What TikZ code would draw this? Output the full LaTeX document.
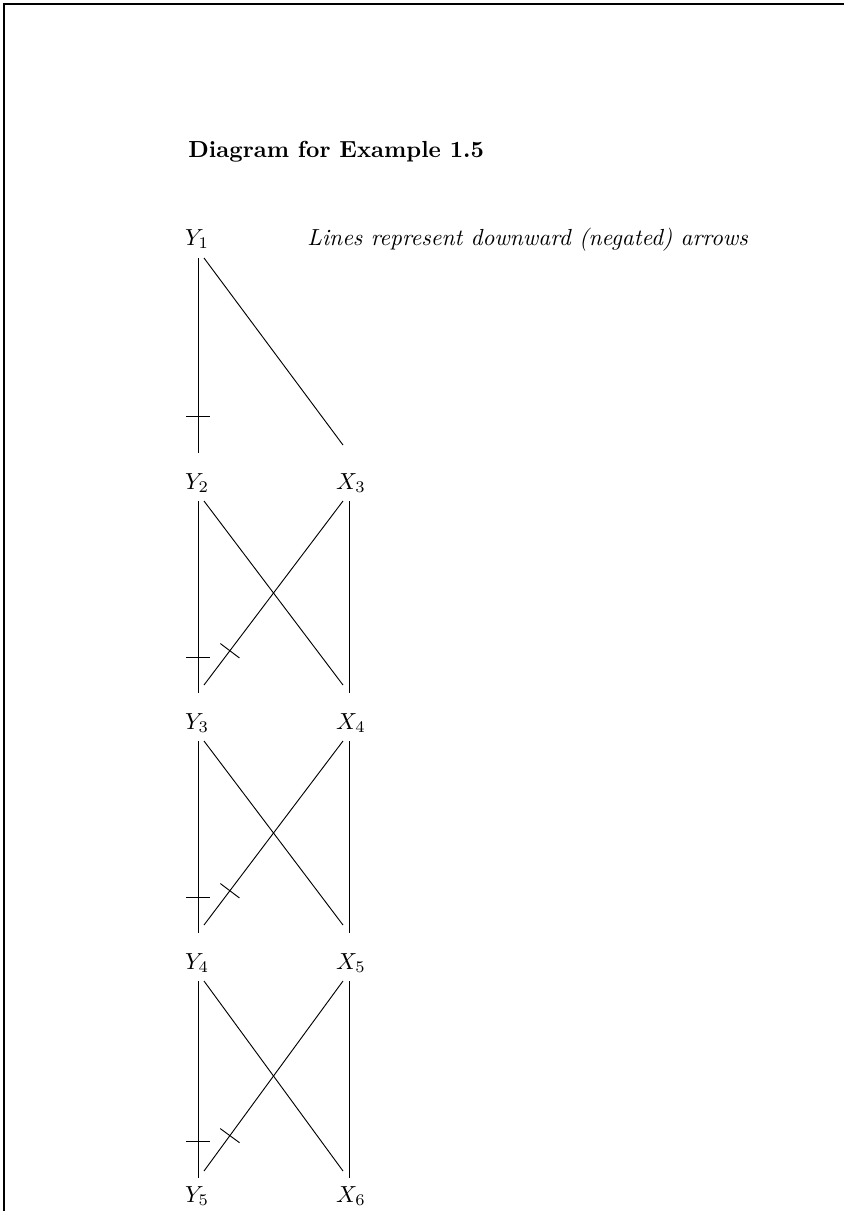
\documentclass[tikz,border=0pt]{standalone}
\usetikzlibrary{decorations.markings}
\tikzset{
  lbl/.style={anchor=base, inner sep=0pt},
  edge/.style={line width=0.4pt},
  negated/.style={postaction={decorate},
    decoration={markings, mark=at position 0.815 with {\draw[line width=0.4pt] (0,-5.15pt) -- (0,5.15pt);}}},
  frameline/.style={line width=0.8pt}
}
\begin{document}
\begin{tikzpicture}[x=0.43pt,y=-0.43pt]
\useasboundingbox (0,0) rectangle (844,1211);
\draw[frameline] (844,4) -- (4,4) -- (4,1211);
\node[lbl, anchor=base west, font=\bfseries] (title) at (188,157) {Diagram for Example 1.5};
\node[lbl] (Y1) at (197,245) {$Y_1$};
\node[lbl, anchor=base west, font=\itshape] (note) at (307,245) {Lines represent downward (negated) arrows};
\node[lbl] (Y2) at (197,489) {$Y_2$};
\node[lbl] (X3) at (351,489) {$X_3$};
\node[lbl] (Y3) at (197,729) {$Y_3$};
\node[lbl] (X4) at (351,729) {$X_4$};
\node[lbl] (Y4) at (197,969) {$Y_4$};
\node[lbl] (X5) at (351,969) {$X_5$};
\node[lbl] (Y5) at (197,1202) {$Y_5$};
\node[lbl] (X6) at (351,1202) {$X_6$};
% row 1
\draw[edge, negated] ([shift={(1,13)}]Y1.base) -- ([shift={(1,-36)}]Y2.base);
\draw[edge] ([shift={(7,13)}]Y1.base) -- ([shift={(-8,-44)}]X3.base);
% rows 2-4
\foreach \a/\b/\c/\d/\v/\g in {Y2/X3/Y3/X4/-36/-44, Y3/X4/Y4/X5/-36/-44, Y4/X5/Y5/X6/-24/-31}{
  \draw[edge, negated] ([shift={(1,12)}]\a.base) -- ([shift={(1,\v)}]\c.base);
  \draw[edge] ([shift={(7,12)}]\a.base) -- ([shift={(-8,\g)}]\d.base);
  \draw[edge, negated] ([shift={(-8,12)}]\b.base) -- ([shift={(7,\g)}]\c.base);
  \draw[edge] ([shift={(-2,12)}]\b.base) -- ([shift={(-2,\v)}]\d.base);
}
\end{tikzpicture}
\end{document}
